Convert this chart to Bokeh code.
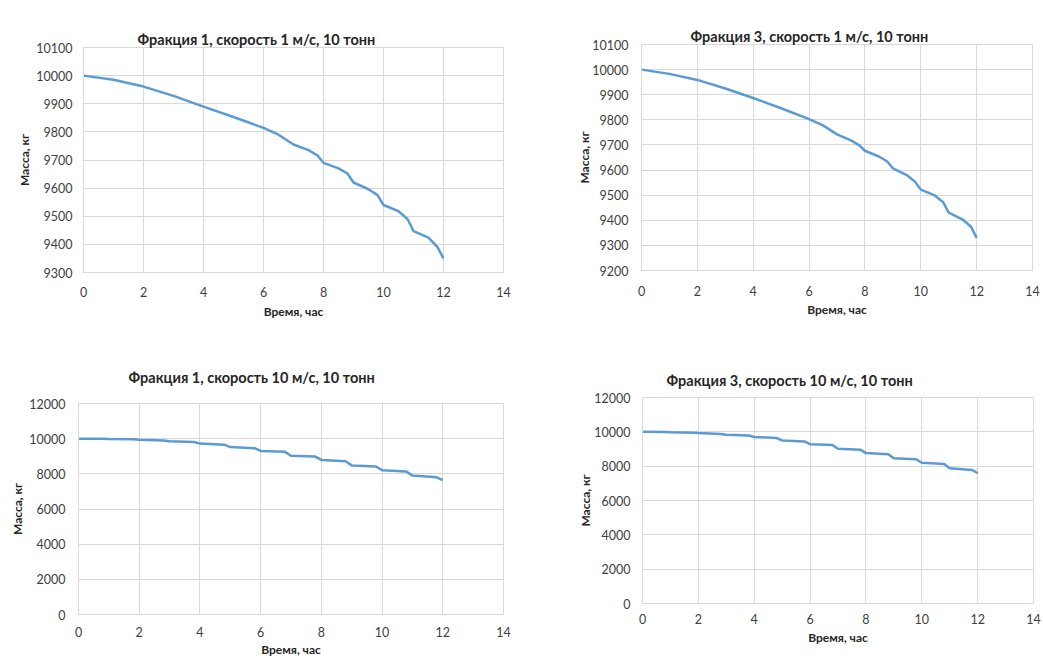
from bokeh.plotting import figure
from bokeh.layouts import column, row
from bokeh.models import Range1d, FixedTicker, Title
from bokeh.embed import file_html
from bokeh.resources import INLINE

# ---- data ----
titles = [
    "Фракция 1, скорость 1 м/с, 10 тонн",
    "Фракция 3, скорость 1 м/с, 10 тонн",
    "Фракция 1, скорость 10 м/с, 10 тонн",
    "Фракция 3, скорость 10 м/с, 10 тонн",
]
x_label = "Время, час"
y_label = "Масса, кг"

t_slow = [0, 1, 2, 3, 4, 5, 6, 6.5, 7, 7.5, 7.8, 8, 8.5, 8.8, 9, 9.5, 9.8, 10,
          10.5, 10.8, 11, 11.5, 11.8, 12]
m_f1_slow = [10000, 9985, 9961, 9928, 9890, 9853, 9814, 9790, 9755, 9735, 9716,
             9690, 9670, 9652, 9620, 9596, 9575, 9540, 9518, 9490, 9447, 9424,
             9390, 9350]
m_f3_slow = [10000, 9983, 9959, 9925, 9887, 9846, 9803, 9778, 9742, 9718, 9698,
             9677, 9654, 9634, 9607, 9580, 9553, 9522, 9499, 9472, 9430, 9403,
             9374, 9330]

t_fast = [0, 0.8, 1, 1.8, 2, 2.8, 3, 3.8, 4, 4.8, 5, 5.8, 6, 6.8, 7, 7.8, 8, 8.8,
          9, 9.8, 10, 10.8, 11, 11.8, 12]
m_f1_fast = [10000, 9990, 9975, 9960, 9940, 9900, 9850, 9810, 9720, 9660, 9520,
             9460, 9300, 9250, 9030, 8980, 8790, 8720, 8480, 8420, 8210, 8130,
             7900, 7800, 7640]
m_f3_fast = [10000, 9990, 9970, 9950, 9925, 9880, 9830, 9790, 9700, 9640, 9500,
             9440, 9280, 9230, 9010, 8960, 8760, 8700, 8460, 8400, 8200, 8120,
             7880, 7780, 7590]

x_ticks = [0, 2, 4, 6, 8, 10, 12, 14]
y_ticks_f1_slow = [9300, 9400, 9500, 9600, 9700, 9800, 9900, 10000, 10100]
y_ticks_f3_slow = [9200, 9300, 9400, 9500, 9600, 9700, 9800, 9900, 10000, 10100]
y_ticks_fast = [0, 2000, 4000, 6000, 8000, 10000, 12000]

FONT = "Lato"
GRID = "#D9D9D9"
LINE = "#5B9BD5"
TEXT = "#404040"


def style_title(tt, toff, tstand):
    tt.text_font = FONT
    tt.text_font_size = "14.5px"
    tt.text_font_style = "bold"
    tt.text_color = "#262626"
    tt.align = "left"
    tt.offset = toff
    tt.standoff = tstand


def make(title, t, m, yticks, size, borders, toff, tstand, spacer,
         xls, xts, yls, yts):
    w, h = size
    bl, br, bt, bb = borders
    p = figure(width=w, height=h, output_backend="svg", toolbar_location=None,
               x_range=Range1d(0, 14), y_range=Range1d(yticks[0], yticks[-1]),
               min_border_left=bl, min_border_right=br, min_border_top=bt,
               min_border_bottom=bb)
    if spacer is None:
        p.title.text = title
        style_title(p.title, toff, tstand)
    else:
        # invisible spacer next to the frame, then the real title outside it
        gap = Title(text=" ", text_font_size="1px", text_alpha=0, standoff=spacer)
        p.add_layout(gap, "above")
        tt = Title(text=title)
        style_title(tt, toff, tstand)
        p.add_layout(tt, "above")
    p.outline_line_color = GRID
    p.background_fill_color = "white"
    p.border_fill_color = "white"
    p.line(t, m, line_width=2.5, color=LINE)
    p.xaxis.ticker = FixedTicker(ticks=x_ticks)
    p.yaxis.ticker = FixedTicker(ticks=yticks)
    p.xgrid.ticker = FixedTicker(ticks=x_ticks)
    p.ygrid.ticker = FixedTicker(ticks=yticks)
    for ax in (p.xaxis, p.yaxis):
        ax.axis_line_color = GRID
        ax.major_tick_line_color = None
        ax.minor_tick_line_color = None
        ax.major_tick_out = 0
        ax.major_tick_in = 0
        ax.major_label_text_font = FONT
        ax.major_label_text_font_size = "12.5px"
        ax.major_label_text_color = TEXT
        ax.axis_label_text_font = FONT
        ax.axis_label_text_font_size = "12px"
        ax.axis_label_text_font_style = "bold"
        ax.axis_label_text_color = "#262626"
    p.xaxis.axis_label = x_label
    p.yaxis.axis_label = y_label
    p.xaxis.major_label_standoff = xls
    p.xaxis.axis_label_standoff = xts
    p.yaxis.major_label_standoff = yls
    p.yaxis.axis_label_standoff = yts
    p.grid.grid_line_color = GRID
    p.grid.grid_line_width = 1
    return p


p1 = make(titles[0], t_slow, m_f1_slow, y_ticks_f1_slow, (520, 345), (83, 17, 47, 73),
          54, 0, 15, 14, 4, 11, 1)
p2 = make(titles[1], t_slow, m_f3_slow, y_ticks_f3_slow, (523, 345), (121, 11, 44, 75),
          49, 0, 15, 15, 3, 13, -3)
p3 = make(titles[2], t_fast, m_f1_fast, y_ticks_fast, (520, 320), (78, 17, 58, 51),
          50, 36, None, 12, 2, 13, 1)
p4 = make(titles[3], t_fast, m_f3_fast, y_ticks_fast, (523, 320), (122, 10, 52, 62),
          24, 18, None, 10, 3, 12, -2)

lay = row(column(column(p1), column(p3)), column(column(p2), column(p4)))
open("out.html", "w").write(file_html(lay, INLINE))
